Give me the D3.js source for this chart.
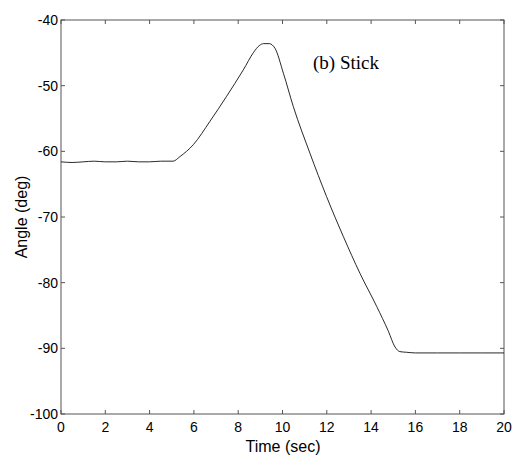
<!DOCTYPE html>
<html>
<head>
<meta charset="utf-8">
<script src="https://d3js.org/d3.v7.min.js"></script>
<style>
  body { margin: 0; background: #fff; }
  svg { display: block; }
</style>
</head>
<body>
<div id="chart"></div>
<script>
// stick angle
var timeSec = [0, 0.5, 1, 1.5, 2, 2.5, 3, 3.5, 4, 4.5, 5.06, 5.37, 5.97, 6.73, 7.48, 8.23, 8.7, 8.95, 9.15, 9.4, 9.66,
               10.04, 10.49, 11.24, 11.99, 12.75, 13.5, 14.25, 14.78, 15.08, 15.3, 15.6, 16, 17, 18, 19, 20];
var angleDeg = [-61.6, -61.7, -61.6, -61.5, -61.6, -61.6, -61.5, -61.6, -61.6, -61.5, -61.5, -60.8, -59.0, -55.4, -51.6, -47.6, -44.9, -43.9, -43.6, -43.6, -44.3,
                -48.1, -53.2, -60.3, -66.9, -73.0, -78.6, -83.6, -87.4, -89.8, -90.5, -90.6, -90.7, -90.7, -90.7, -90.7, -90.7];

var xTicks = [0, 2, 4, 6, 8, 10, 12, 14, 16, 18, 20];
var yTicks = [-40, -50, -60, -70, -80, -90, -100];

var width = 517, height = 455;
var margin = {top: 20, right: 13, bottom: 41, left: 61};

var svg = d3.select("#chart").append("svg")
    .attr("width", width)
    .attr("height", height);

var x = d3.scaleLinear().domain([0, 20]).range([margin.left, width - margin.right]);
var y = d3.scaleLinear().domain([-100, -40]).range([height - margin.bottom, margin.top]);

var axisColor = "#555";

// frame
svg.append("rect")
    .attr("x", x(0))
    .attr("y", y(-40))
    .attr("width", x(20) - x(0))
    .attr("height", y(-100) - y(-40))
    .style("fill", "none")
    .style("stroke", axisColor)
    .style("stroke-width", 1);

// inward ticks on all four sides
var tickLen = 4;
var g = svg.append("g").style("stroke", axisColor).style("stroke-width", 1);
xTicks.forEach(function(t) {
  g.append("line").attr("x1", x(t)).attr("x2", x(t)).attr("y1", y(-100)).attr("y2", y(-100) - tickLen);
  g.append("line").attr("x1", x(t)).attr("x2", x(t)).attr("y1", y(-40)).attr("y2", y(-40) + tickLen);
});
yTicks.forEach(function(t) {
  g.append("line").attr("x1", x(0)).attr("x2", x(0) + tickLen).attr("y1", y(t)).attr("y2", y(t));
  g.append("line").attr("x1", x(20)).attr("x2", x(20) - tickLen).attr("y1", y(t)).attr("y2", y(t));
});

// tick labels
svg.selectAll(".xlab")
    .data(xTicks)
    .enter().append("text")
    .attr("class", "xlab")
    .attr("x", function(d) { return x(d); })
    .attr("y", y(-100) + 18)
    .attr("text-anchor", "middle")
    .style("font-family", "Liberation Sans, Arial, sans-serif")
    .style("font-size", "14px")
    .text(function(d) { return d; });

svg.selectAll(".ylab")
    .data(yTicks)
    .enter().append("text")
    .attr("class", "ylab")
    .attr("x", x(0) - 3)
    .attr("y", function(d) { return y(d) + 5; })
    .attr("text-anchor", "end")
    .style("font-family", "Liberation Sans, Arial, sans-serif")
    .style("font-size", "14px")
    .text(function(d) { return d; });

// axis titles
svg.append("text")
    .attr("x", 283)
    .attr("y", 452)
    .attr("text-anchor", "middle")
    .style("font-family", "Liberation Sans, Arial, sans-serif")
    .style("font-size", "16px")
    .text("Time (sec)");

svg.append("text")
    .attr("transform", "translate(27," + ((y(-40) + y(-100)) / 2) + ") rotate(-90)")
    .attr("text-anchor", "middle")
    .style("font-family", "Liberation Sans, Arial, sans-serif")
    .style("font-size", "16px")
    .text("Angle (deg)");

// panel label
svg.append("text")
    .attr("x", 313)
    .attr("y", 69)
    .style("font-family", "Liberation Serif, Times New Roman, serif")
    .style("font-size", "19px")
    .text("(b) Stick");

// the trace
var line = d3.line()
    .x(function(d, i) { return x(timeSec[i]); })
    .y(function(d) { return y(d); })
    .curve(d3.curveMonotoneX);

svg.append("path")
    .datum(angleDeg)
    .attr("d", line)
    .style("fill", "none")
    .style("stroke", "#111")
    .style("stroke-width", 0.9);
</script>
</body>
</html>
